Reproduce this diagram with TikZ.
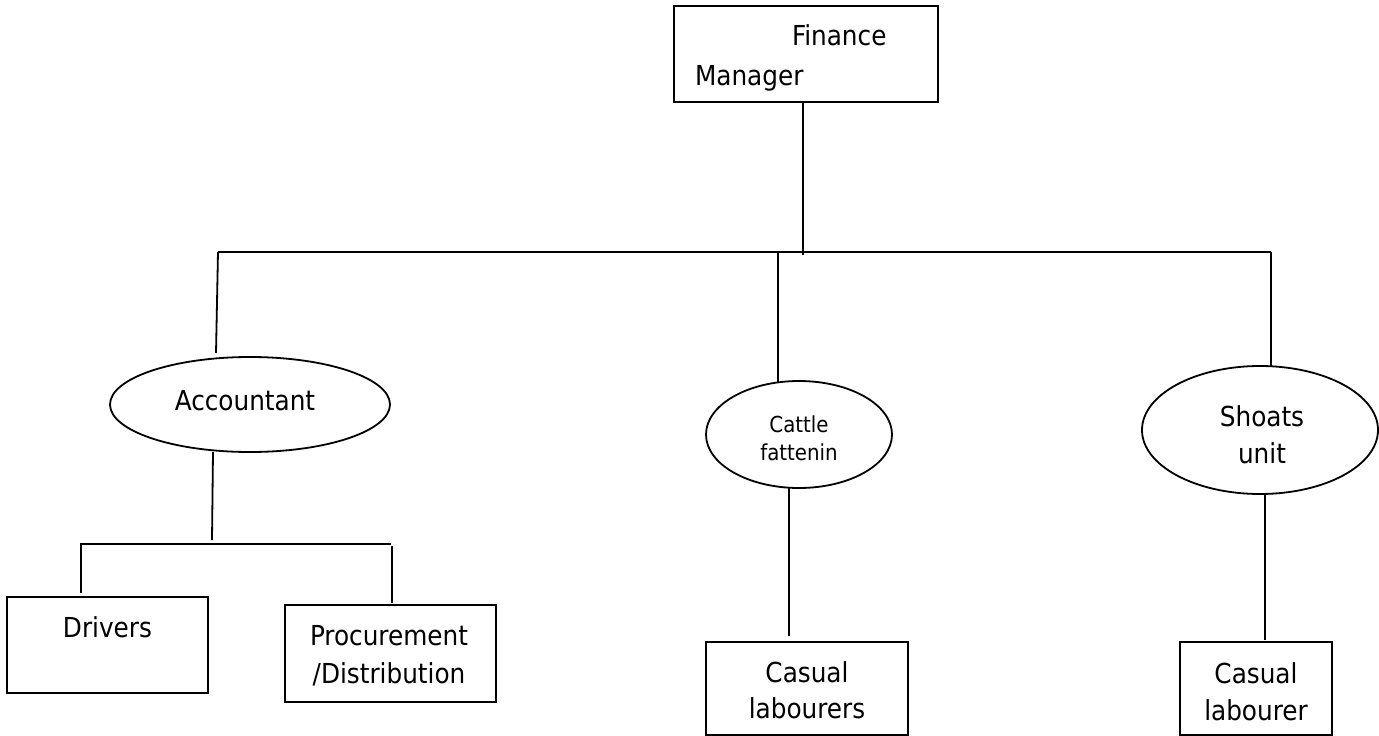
\documentclass[tikz,border=0pt]{standalone}
\usepackage{fontspec}
\setmainfont{DejaVu Sans Condensed}
\usetikzlibrary{shapes.geometric}
\begin{document}
\begin{tikzpicture}[x=1pt,y=-1pt,
  every node/.style={inner sep=0pt, outer sep=0pt},
  rectbox/.style={draw, line width=1.8pt, rectangle},
  ellbox/.style={draw, line width=1.8pt, ellipse},
  lbl/.style={anchor=base, font=\fontsize{27.5}{37}\selectfont, align=center},
  smalllbl/.style={anchor=base, font=\fontsize{22}{28}\selectfont, align=center},
  conn/.style={line width=1.8pt}]
\useasboundingbox (0,0) rectangle (1379,736);

% shapes
\node[rectbox, minimum width=264pt, minimum height=96pt] (fm) at (806,54) {};
\node[ellbox, minimum width=280pt, minimum height=95pt] (acc) at (250,404.5) {};
\node[ellbox, minimum width=186pt, minimum height=107pt] (cat) at (799,434.5) {};
\node[ellbox, minimum width=236pt, minimum height=128pt] (sho) at (1260,430) {};
\node[rectbox, minimum width=201pt, minimum height=96pt] (drv) at (107.5,645) {};
\node[rectbox, minimum width=211pt, minimum height=97pt] (pro) at (390.5,653.5) {};
\node[rectbox, minimum width=202pt, minimum height=93pt] (casl) at (807,688.5) {};
\node[rectbox, minimum width=152pt, minimum height=93pt] (cass) at (1256,688.5) {};

% texts (base anchor = baseline of the last line)
\node[lbl, anchor=base west, align=left, font=\fontsize{27.5}{40}\selectfont] (fmT) at (695,85) {\hspace*{97pt}Finance\\Manager};
\node[lbl] (accT) at (245,410) {Accountant};
\node[smalllbl] (catT) at (799,460) {Cattle\\fattenin};
\node[lbl] (shoT) at (1262,463) {Shoats\\unit};
\node[lbl] (drvT) at (107.5,637) {Drivers};
\node[lbl, font=\fontsize{27.5}{38}\selectfont] (proT) at (389,683) {Procurement\\/Distribution};
\node[lbl, font=\fontsize{27.5}{36}\selectfont] (caslT) at (807,718) {Casual\\labourers};
\node[lbl] (cassT) at (1256,720) {Casual\\labourer};

% junction coordinates
\coordinate (busL) at (218,252);
\coordinate (busR) at (1271,252);
\coordinate (fmJ) at (803,255);
\coordinate (accTop) at (216,353);
\coordinate (catJ) at (778,253);
\coordinate (catTop) at (778,382);
\coordinate (shoTop) at (1271,367);
\coordinate (accBot) at (213,452);
\coordinate (subJ) at (212,540);
\coordinate (subL) at (81,544);
\coordinate (subR) at (391,544);
\coordinate (drvTop) at (81,593);
\coordinate (proJ) at (392,546);
\coordinate (proTop) at (392,603);
\coordinate (catBot) at (789,488);
\coordinate (caslTop) at (789,636);
\coordinate (shoBot) at (1265,494);
\coordinate (cassTop) at (1265,640);

% connectors
\draw[conn] ([xshift=-3pt]fm.south) -- (fmJ);
\draw[conn] (busL) -- (busR);
\draw[conn] (busL) -- (accTop);
\draw[conn] (catJ) -- (catTop);
\draw[conn] (busR) -- (shoTop);
\draw[conn] (accBot) -- (subJ);
\draw[conn] (subL) -- (subR);
\draw[conn] ([yshift=1pt]subL) -- (drvTop);
\draw[conn] (proJ) -- (proTop);
\draw[conn] (catBot) -- (caslTop);
\draw[conn] (shoBot) -- (cassTop);
\end{tikzpicture}
\end{document}
